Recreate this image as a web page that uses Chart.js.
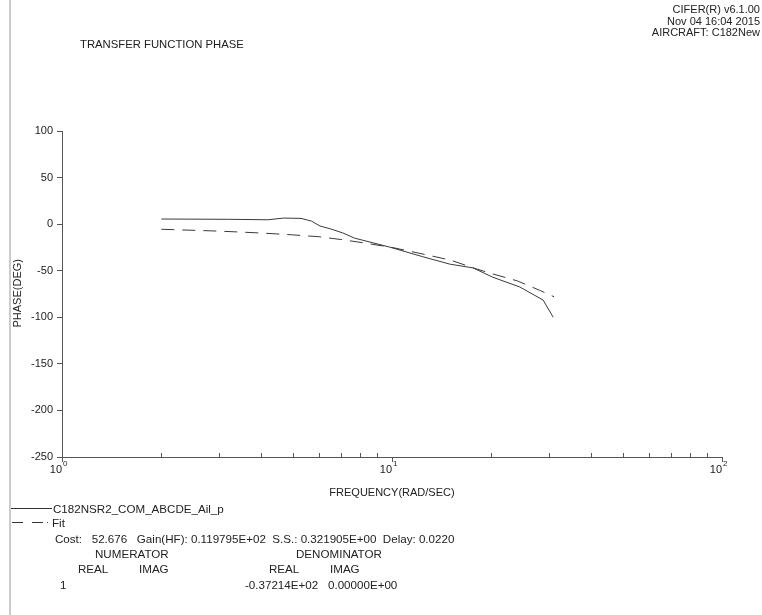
<!DOCTYPE html>
<html>
<head>
<meta charset="utf-8">
<script src="https://cdn.jsdelivr.net/npm/chart.js@4"></script>
<style>
  body { margin: 0; background: #fff; }
  #wrap { position: relative; width: 762px; height: 615px; overflow: hidden; }
  #wrap canvas { position: absolute; left: 0; top: 0; }
  .t { position: absolute; font: 11.6px "Liberation Sans", Arial, sans-serif; color: #222; line-height: 13px; white-space: pre; }
  #frame { position: absolute; left: 9px; top: 0; width: 2px; height: 615px; background: #cccccc; }
</style>
</head>
<body>
<div id="wrap">
  <canvas id="phase" width="762" height="615"></canvas>
  <div id="frame"></div>
  <div class="t" style="left:80px; top:38px; font-size:11.3px;">TRANSFER FUNCTION PHASE</div>
  <div class="t" style="right:2px; top:4px; text-align:right; line-height:11.5px; font-size:11px;">CIFER(R) v6.1.00
Nov 04 16:04 2015
AIRCRAFT: C182New</div>
  <div class="t" style="left:-16px; top:288px; width:66px; text-align:center; transform:rotate(-90deg); font-size:11px;">PHASE(DEG)</div>
  <div class="t" style="left:292px; top:486px; width:200px; text-align:center; font-size:11px;">FREQUENCY(RAD/SEC)</div>
  <div class="t" style="left:53px; top:502px;">C182NSR2_COM_ABCDE_Ail_p</div>
  <div class="t" style="left:52px; top:516px;">Fit</div>
  <div class="t" style="left:55px; top:532px;">Cost:   52.676   Gain(HF): 0.119795E+02  S.S.: 0.321905E+00  Delay: 0.0220</div>
  <div class="t" style="left:95px; top:547px;">NUMERATOR</div>
  <div class="t" style="left:296px; top:547px;">DENOMINATOR</div>
  <div class="t" style="left:78px; top:562px;">REAL</div>
  <div class="t" style="left:139px; top:562px;">IMAG</div>
  <div class="t" style="left:269px; top:562px;">REAL</div>
  <div class="t" style="left:330px; top:562px;">IMAG</div>
  <div class="t" style="left:60px; top:578px;">1</div>
  <div class="t" style="left:245px; top:578px;">-0.37214E+02</div>
  <div class="t" style="left:328px; top:578px;">0.00000E+00</div>
</div>
<script>
// measured phase (solid)
const freqData = [2, 3.2, 4.2, 4.7, 5.3, 5.7, 6.05, 6.5, 7.1, 7.7, 8.1, 9.8, 12.4, 15, 17.6, 20.2, 24.4, 28.7, 30.8];
const phaseData = [5.5, 5.2, 4.7, 6.5, 6.2, 3.3, -2, -5, -9.5, -15, -17, -24.5, -35, -43, -47, -57, -67.5, -81.5, -100];

// fitted model (dashed)
const freqFit = [2, 3, 4, 5, 6, 7, 8, 10, 12, 15, 18, 20, 24, 28, 31];
const phaseFit = [-5.5, -7.5, -9.5, -11.5, -13.5, -16.5, -19.5, -25, -31, -38.5, -48, -53, -61, -71, -78];

const yTicks = [100, 50, 0, -50, -100, -150, -200, -250];
const decades = [1, 10, 100];

const font = { family: '"Liberation Sans", Arial, sans-serif', size: 11 };

const toPoints = (xs, ys) => xs.map((x, i) => ({ x: x, y: ys[i] }));

// x ticks: minor ones point up, decades point down, labels as 10^n
const logTicks = {
    id: 'logTicks',
    afterDraw(chart) {
        const ctx = chart.ctx;
        const xs = chart.scales.x;
        const bottom = chart.chartArea.bottom;
        ctx.save();
        ctx.strokeStyle = '#555';
        ctx.lineWidth = 1;
        ctx.beginPath();
        for (let d = 0; d < decades.length - 1; d++) {
            for (let k = 2; k <= 9; k++) {
                const px = Math.round(xs.getPixelForValue(decades[d] * k)) + 0.5;
                ctx.moveTo(px, bottom);
                ctx.lineTo(px, bottom - 4);
            }
        }
        decades.forEach(v => {
            const px = Math.round(xs.getPixelForValue(v)) + 0.5;
            ctx.moveTo(px, bottom);
            ctx.lineTo(px, bottom + 5);
        });
        ctx.stroke();

        ctx.fillStyle = '#222';
        decades.forEach((v, i) => {
            const px = xs.getPixelForValue(v);
            ctx.font = '11px "Liberation Sans", Arial, sans-serif';
            ctx.textAlign = 'right';
            ctx.textBaseline = 'alphabetic';
            ctx.fillText('10', px, bottom + 16);
            ctx.font = '8px "Liberation Sans", Arial, sans-serif';
            ctx.textAlign = 'left';
            ctx.fillText(String(i), px + 1, bottom + 9);
        });

        // legend samples
        ctx.strokeStyle = '#333';
        ctx.beginPath();
        ctx.moveTo(11, 508.5);
        ctx.lineTo(52, 508.5);
        ctx.stroke();
        ctx.setLineDash([11, 9]);
        ctx.beginPath();
        ctx.moveTo(12, 522.5);
        ctx.lineTo(43, 522.5);
        ctx.stroke();
        ctx.setLineDash([]);
        ctx.fillStyle = '#555';
        ctx.fillRect(47, 522, 1, 1);
        ctx.restore();
    }
};

new Chart(document.getElementById('phase').getContext('2d'), {
    type: 'line',
    data: {
        datasets: [{
            label: 'C182NSR2_COM_ABCDE_Ail_p',
            data: toPoints(freqData, phaseData),
            borderColor: '#3a3a3a',
            borderWidth: 1,
            pointRadius: 0,
            tension: 0
        }, {
            label: 'Fit',
            data: toPoints(freqFit, phaseFit),
            borderColor: '#3a3a3a',
            borderWidth: 1,
            borderDash: [13, 8],
            pointRadius: 0,
            tension: 0
        }]
    },
    options: {
        responsive: false,
        animation: false,
        layout: { padding: { top: 131, right: 40, left: 0, bottom: 0 } },
        plugins: {
            legend: { display: false },
            tooltip: { enabled: false }
        },
        scales: {
            x: {
                type: 'logarithmic',
                min: 1,
                max: 100,
                ticks: { display: false },
                grid: { display: false },
                border: { display: true, color: '#555', width: 1 },
                afterFit: (scale) => { scale.height = 158; }
            },
            y: {
                min: -250,
                max: 100,
                afterBuildTicks: (scale) => { scale.ticks = yTicks.map(v => ({ value: v })); },
                ticks: { font: font, color: '#222', padding: 4 },
                grid: { drawOnChartArea: false, drawTicks: true, tickLength: 5, color: '#555' },
                border: { display: true, color: '#555', width: 1 },
                afterFit: (scale) => { scale.width = 62; }
            }
        }
    },
    plugins: [logTicks]
});
</script>
</body>
</html>
